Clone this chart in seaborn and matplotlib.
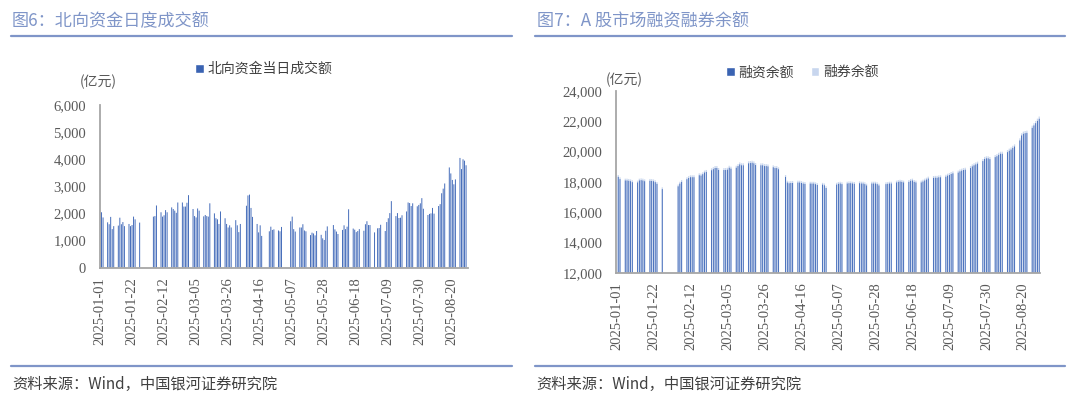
import matplotlib
matplotlib.use("Agg")
import matplotlib.pyplot as plt
import matplotlib.dates as mdates
from matplotlib.lines import Line2D
from matplotlib.patches import Patch
from matplotlib.ticker import FuncFormatter, FixedLocator
import seaborn as sns
import pandas as pd

sns.set_style("white")
plt.rcParams['font.family'] = ['Noto Sans CJK SC', 'DejaVu Sans']
plt.rcParams['axes.unicode_minus'] = False

# 交易日: A股休市 + 港股休市(北向不开)
cn_holidays = ['2025-01-01', '2025-01-28', '2025-01-29', '2025-01-30', '2025-01-31',
               '2025-02-03', '2025-02-04', '2025-04-04', '2025-05-01', '2025-05-02',
               '2025-05-05', '2025-06-02']
hk_closed = ['2025-04-18', '2025-04-21', '2025-07-01']
tick_dates = ['2025-01-01', '2025-01-22', '2025-02-12', '2025-03-05', '2025-03-26',
              '2025-04-16', '2025-05-07', '2025-05-28', '2025-06-18', '2025-07-09',
              '2025-07-30', '2025-08-20']

# 北向资金当日成交额 (亿元)
northbound = [
    2040, 1850,
    1670, 1600, 1870, 1420, 1530,
    1550, 1840, 1600, 1680, 1530,
    1610, 1530, 1570, 1880, 1780,
    1660,
    1880, 1900, 2290,
    2040, 1880, 1930, 2120, 2040,
    2220, 2160, 2100, 2020, 2400,
    2400, 2250, 2250, 2390, 2670,
    2160, 1900, 1850, 2180, 2100,
    1890, 1940, 1900, 1880, 2370,
    2000, 1820, 1780, 1610, 2070,
    1820, 1610, 1480, 1560, 1480,
    1750, 1560, 1310, 1610,
    2280, 2660, 2690, 2200, 1870,
    1610, 1300, 1560, 1170,
    1340, 1510, 1390, 1410,
    1370, 1340, 1500,
    1710, 1880, 1420, 1330,
    1480, 1480, 1600, 1370, 1340,
    1200, 1290, 1260, 1190, 1350,
    1210, 1080, 1020, 1360, 1520,
    1570, 1410, 1330, 1240,
    1390, 1560, 1420, 1510, 2150,
    1440, 1400, 1310, 1350, 1420,
    1360, 1600, 1710, 1570, 1570,
    1300,
    1450, 1460, 1580,
    1350, 1680, 1820, 2010, 2450,
    1900, 2010, 1830, 1840, 1930,
    2070, 2400, 2380, 2270, 2370,
    2260, 2310, 2370, 2560, 2170,
    1940, 1980, 2000, 2200, 1990,
    2270, 2340, 2740, 2910, 3100,
    3690, 3470, 3230, 3070, 3250,
    4040, 3630, 3990, 3940, 3770,
]

# 融资余额 (亿元)
financing = [
    18320, 18170, 18080, 18080, 18060, 18030, 17970, 17950, 18080, 18100,
    18080, 18030, 18060, 18050, 18030, 17970, 17860, 17510,
    17695, 17875, 17985, 18165, 18245, 18295, 18295, 18295, 18425, 18405,
    18495, 18605, 18645, 18755, 18825, 18905, 18905, 18775,
    18770, 18770, 18790, 18920, 18860, 18920, 19030, 19140, 19080, 19080,
    19210, 19230, 19250, 19210, 19100, 19080, 19080, 19030, 19030, 19010,
    18950, 18900, 18900, 18820,
    18315, 17945, 17895, 17915, 17915, 17945, 17945, 17915, 17875, 17855,
    17875, 17875, 17875, 17835, 17785, 17805, 17765, 17585,
    17810, 17860, 17880, 17840, 17880, 17900, 17900, 17880, 17860, 17900,
    17880, 17880, 17840, 17750, 17880, 17880, 17880, 17840, 17750,
    17840, 17860, 17880, 17880, 17950, 17990, 18010, 17990, 17950, 17990,
    18060, 18080, 17990, 17950, 17950, 18010, 18080, 18140, 18210,
    18250, 18260, 18260, 18290, 18290,
    18330, 18400, 18440, 18510, 18550, 18600, 18680, 18730, 18770, 18790,
    18900, 19010, 19080, 19140, 19190,
    19360, 19500, 19540, 19540, 19490,
    19620, 19680, 19770, 19840, 19840, 19950, 20040, 20120, 20230, 20320,
    20720, 21050, 21160, 21200, 21220, 21550, 21710, 21860, 22010, 22150,
]

# 融券余额 (亿元)
lending = [
    118, 119, 120, 121, 121, 120, 120, 119, 118, 119, 120, 121, 121, 120, 119, 119, 118, 117,
    119, 121, 122, 123, 124, 125, 125, 126, 126, 127, 127, 128, 128, 129, 129, 130, 130, 129,
    129, 130, 130, 131, 131, 132, 132, 133, 133, 132, 133, 133, 132, 131, 131, 130, 130, 129,
    129, 128, 128, 127, 127, 126,
    122, 120, 120, 121, 121, 121, 120, 120, 120, 119, 119, 119, 119, 118, 118, 118, 117, 117,
    117, 118, 118, 118, 119, 119, 119, 119, 119, 119, 119, 119, 118, 118, 118, 118, 118, 118, 117,
    117, 117, 118, 118, 118, 119, 119, 119, 119, 119, 120, 120, 120, 120, 121, 121, 122, 122, 123,
    123, 124, 124, 125, 125,
    126, 126, 127, 127, 128, 128, 129, 129, 130, 130, 131, 131, 132, 132, 133,
    133, 134, 134, 135, 135,
    136, 136, 137, 137, 138, 138, 139, 139, 140, 140, 141, 142, 143, 143, 144, 145, 146, 147, 148, 149,
]

trade_days = pd.bdate_range('2025-01-02', '2025-08-29')
trade_days = trade_days[~trade_days.isin(pd.to_datetime(cn_holidays))]
nb_days = trade_days[~trade_days.isin(pd.to_datetime(hk_closed))]

df_nb = pd.DataFrame({'x': mdates.date2num(nb_days), 'v': northbound})
df_mg = pd.DataFrame({'x': mdates.date2num(trade_days), 'rz': financing, 'rq': lending})
df_mg['total'] = df_mg['rz'] + df_mg['rq']

dark = '#3a63b2'
bar_c = '#3f68b8'
light = '#c8d6ee'
grey_txt = '#595959'
title_c = '#7f95c8'
serif = 'Liberation Serif'

fig = plt.figure(figsize=(10.8, 3.97), dpi=100)
ax1 = fig.add_axes([0.0926, 0.3257, 0.3405, 0.4106])
ax2 = fig.add_axes([0.5708, 0.3131, 0.3921, 0.4584])

# snap=False 让细柱按亚像素抗锯齿绘制, 不会被吞掉
sns.barplot(data=df_nb, x='x', y='v', native_scale=True, orient='x', width=0.62,
            color=bar_c, saturation=1, errorbar=None, linewidth=0, snap=False, ax=ax1)
sns.barplot(data=df_mg, x='x', y='total', native_scale=True, orient='x', width=0.7,
            color=light, saturation=1, errorbar=None, linewidth=0, snap=False, ax=ax2)
sns.barplot(data=df_mg, x='x', y='rz', native_scale=True, orient='x', width=0.5,
            color=bar_c, saturation=1, errorbar=None, linewidth=0, snap=False, ax=ax2)

t0 = mdates.date2num(pd.Timestamp('2025-01-01'))
ax1.set_xlim(t0, t0 + 241.1)
ax1.set_ylim(0, 6000)
ax1.yaxis.set_major_locator(FixedLocator([0, 1000, 2000, 3000, 4000, 5000, 6000]))
ax2.set_xlim(t0, t0 + 240.4)
ax2.set_ylim(12000, 24000)
ax2.yaxis.set_major_locator(FixedLocator(list(range(12000, 24001, 2000))))

for ax in (ax1, ax2):
    ax.set_xlabel('')
    ax.set_ylabel('')
    ax.xaxis.set_major_locator(FixedLocator(mdates.date2num(pd.to_datetime(tick_dates))))
    ax.xaxis.set_major_formatter(mdates.DateFormatter('%Y-%m-%d'))
    ax.yaxis.set_major_formatter(FuncFormatter(lambda v, p: f'{int(v):,}'))
    for s in ('top', 'right'):
        ax.spines[s].set_visible(False)
    for s in ('left', 'bottom'):
        ax.spines[s].set_color('#a6a6a6')
        ax.spines[s].set_linewidth(1.3)
    ax.tick_params(axis='both', direction='out', length=4, width=1, color='#a6a6a6',
                   labelsize=10.5, labelcolor=grey_txt, labelfontfamily=serif)
    ax.tick_params(axis='x', labelrotation=90, pad=3)
    ax.tick_params(axis='y', pad=6)
    ax.grid(False)

# 单位
fig.text(0.0907, 0.7945, '(亿元)', ha='center', va='center', fontsize=10, color=grey_txt)
fig.text(0.5778, 0.7985, '(亿元)', ha='center', va='center', fontsize=10, color=grey_txt)

# 图例
ax1.legend(handles=[Patch(facecolor=dark, label='北向资金当日成交额')],
           loc='center', bbox_to_anchor=(0.2444, 0.8262), bbox_transform=fig.transFigure,
           frameon=False, fontsize=10, handlelength=0.62, handleheight=0.62,
           handletextpad=0.3, borderpad=0, labelcolor='#404040')
ax2.legend(handles=[Patch(facecolor=dark, label='融资余额'), Patch(facecolor=light, label='融券余额')],
           loc='center', bbox_to_anchor=(0.7431, 0.8179), bbox_transform=fig.transFigure,
           frameon=False, fontsize=10, ncol=2, handlelength=0.62, handleheight=0.62,
           handletextpad=0.3, columnspacing=1.2, borderpad=0, labelcolor='#404040')

# 标题与分隔线
fig.text(12 / 1080, 1 - 21 / 397, '图6：北向资金日度成交额', ha='left', va='center',
         fontsize=12.3, color=title_c)
fig.text(537 / 1080, 1 - 21 / 397, '图7：A 股市场融资融券余额', ha='left', va='center',
         fontsize=12.3, color=title_c)
for x0, x1 in ((11, 512), (535, 1065)):
    for yy in (36, 366):
        fig.add_artist(Line2D([x0 / 1080, x1 / 1080], [1 - yy / 397, 1 - yy / 397],
                              color=title_c, linewidth=1.6, transform=fig.transFigure))

for x0 in (12, 536):
    fig.text(x0 / 1080, 1 - 384 / 397, '资料来源：Wind，中国银河证券研究院', ha='left',
             va='center', fontsize=11, color='#404040', fontstyle='italic')

fig.savefig('out.png', dpi=100)
